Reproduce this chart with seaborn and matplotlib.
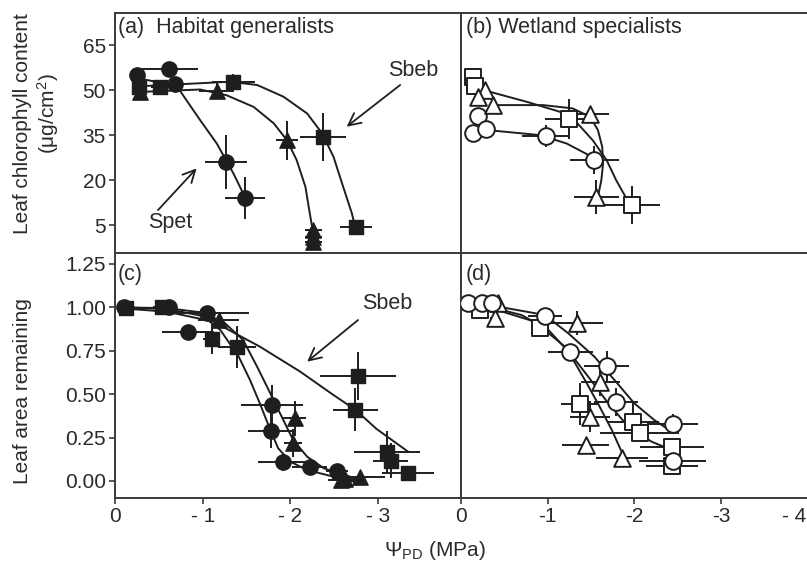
import matplotlib
matplotlib.use("Agg")
import matplotlib.pyplot as plt
import matplotlib.transforms as mtransforms
import seaborn as sns
import pandas as pd

# ---------------- data ----------------
# Panel (a) habitat generalists, chlorophyll
a_circ_x = [-0.25, -0.61, -0.68, -1.27, -1.48]
a_circ_y = [55.0, 57.0, 52.2, 26.1, 14.2]
a_circ_xe = [0.05, 0.34, 0.05, 0.24, 0.23]
a_circ_ye = [1.5, 1.5, 1.5, 9.0, 7.0]
a_sq_x = [-0.27, -0.51, -1.35, -2.37, -2.75]
a_sq_y = [51.1, 50.9, 52.8, 34.5, 4.5]
a_sq_xe = [0.05, 0.10, 0.25, 0.26, 0.18]
a_sq_ye = [2.0, 2.0, 2.5, 8.0, 2.0]
a_tri_x = [-0.28, -1.16, -1.96, -2.26, -2.26, -2.26]
a_tri_y = [49.5, 49.8, 33.3, 3.3, 1.1, -0.6]
a_tri_xe = [0.05, 0.20, 0.12, 0.10, 0.10, 0.10]
a_tri_ye = [2.0, 2.5, 6.5, 1.0, 1.0, 1.0]
a_fit_sq_x = [-0.27, -0.51, -1.31, -1.62, -1.92, -2.19, -2.36, -2.49, -2.60, -2.70, -2.74]
a_fit_sq_y = [51.3, 51.6, 52.8, 51.7, 47.8, 42.2, 35.6, 27.8, 17.8, 8.9, 3.9]
a_fit_tri_x = [-0.29, -0.97, -1.27, -1.58, -1.81, -1.96, -2.07, -2.17, -2.22, -2.26]
a_fit_tri_y = [49.4, 50.2, 48.3, 44.4, 38.9, 33.3, 26.7, 17.8, 8.9, 2.2]
a_fit_circ_x = [-0.25, -0.70, -0.97, -1.16, -1.35, -1.48]
a_fit_circ_y = [54.0, 51.5, 40.0, 32.2, 22.2, 14.4]

# Panel (b) wetland specialists, chlorophyll
b_circ_x = [-0.20, -0.14, -0.29, -0.98, -1.54]
b_circ_y = [41.3, 35.8, 37.2, 34.7, 26.7]
b_circ_xe = [0.05, 0.05, 0.05, 0.27, 0.28]
b_circ_ye = [1.5, 1.5, 2.0, 3.7, 4.7]
b_sq_x = [-0.145, -0.16, -1.25, -1.97]
b_sq_y = [54.4, 51.3, 40.4, 11.7]
b_sq_xe = [0.05, 0.05, 0.28, 0.33]
b_sq_ye = [2.5, 2.0, 6.8, 6.4]
b_tri_x = [-0.28, -0.20, -0.375, -1.49, -1.56]
b_tri_y = [50.2, 47.6, 45.2, 42.2, 14.4]
b_tri_xe = [0.05, 0.05, 0.05, 0.22, 0.26]
b_tri_ye = [1.5, 1.5, 2.0, 1.5, 5.8]
b_fit_sq_x = [-0.145, -0.34, -0.76, -1.14, -1.33, -1.52, -1.68, -1.79, -1.93]
b_fit_sq_y = [51.7, 49.4, 46.1, 42.8, 39.4, 33.3, 26.7, 20.0, 12.8]
b_fit_tri_x = [-0.375, -0.95, -1.29, -1.49, -1.58, -1.63, -1.64, -1.62, -1.58]
b_fit_tri_y = [45.0, 45.0, 43.9, 41.1, 36.7, 31.1, 25.6, 20.0, 14.4]
b_fit_circ_x = [-0.30, -0.91, -1.22, -1.45, -1.58]
b_fit_circ_y = [36.7, 35.0, 32.2, 28.7, 25.6]

# Panel (c) habitat generalists, leaf area
c_circ_x = [-0.10, -0.61, -1.05, -0.83, -1.79, -1.78, -1.92, -2.22, -2.53]
c_circ_y = [1.00, 1.00, 0.966, 0.86, 0.44, 0.29, 0.108, 0.082, 0.059]
c_circ_xe = [0.04, 0.05, 0.48, 0.30, 0.35, 0.26, 0.29, 0.20, 0.13]
c_circ_ye = [0.01, 0.01, 0.02, 0.02, 0.11, 0.10, 0.05, 0.03, 0.03]
c_sq_x = [-0.13, -0.53, -1.10, -1.39, -2.77, -2.74, -3.10, -3.14, -3.34]
c_sq_y = [0.995, 1.00, 0.816, 0.77, 0.605, 0.41, 0.165, 0.117, 0.044]
c_sq_xe = [0.04, 0.10, 0.10, 0.22, 0.43, 0.26, 0.38, 0.20, 0.30]
c_sq_ye = [0.01, 0.01, 0.087, 0.12, 0.14, 0.125, 0.12, 0.10, 0.02]
c_tri_x = [-1.18, -2.05, -2.03, -2.58, -2.62, -2.79]
c_tri_y = [0.93, 0.36, 0.22, 0.006, 0.010, 0.025]
c_tri_xe = [0.23, 0.13, 0.10, 0.15, 0.15, 0.29]
c_tri_ye = [0.02, 0.10, 0.08, 0.02, 0.02, 0.02]
c_fit_sq_x = [-0.06, -0.59, -1.12, -1.65, -2.11, -2.49, -2.74, -2.98, -3.34]
c_fit_sq_y = [0.995, 0.975, 0.918, 0.774, 0.63, 0.495, 0.41, 0.30, 0.169]
c_fit_circ_x = [-0.10, -0.60, -1.00, -1.20, -1.41, -1.54, -1.65, -1.77, -1.86, -2.00, -2.19, -2.49, -2.72]
c_fit_circ_y = [1.00, 0.99, 0.95, 0.87, 0.716, 0.58, 0.448, 0.294, 0.188, 0.111, 0.063, 0.025, -0.004]
c_fit_tri_x = [-0.10, -0.60, -1.00, -1.25, -1.46, -1.62, -1.77, -1.90, -2.03, -2.19, -2.38, -2.68]
c_fit_tri_y = [1.00, 0.995, 0.97, 0.91, 0.812, 0.658, 0.505, 0.37, 0.236, 0.14, 0.073, 0.025]

# Panel (d) wetland specialists, leaf area
d_circ_x = [-0.087, -0.24, -0.36, -0.97, -1.26, -1.68, -1.79, -2.44, -2.44]
d_circ_y = [1.027, 1.027, 1.024, 0.95, 0.74, 0.66, 0.457, 0.328, 0.117]
d_circ_xe = [0.03, 0.05, 0.05, 0.20, 0.26, 0.26, 0.25, 0.29, 0.39]
d_circ_ye = [0.01, 0.01, 0.01, 0.02, 0.03, 0.09, 0.08, 0.06, 0.03]
d_sq_x = [-0.22, -0.91, -1.37, -1.98, -2.06, -2.43, -2.43]
d_sq_y = [0.985, 0.88, 0.444, 0.342, 0.275, 0.198, 0.086]
d_sq_xe = [0.05, 0.10, 0.22, 0.30, 0.45, 0.37, 0.30]
d_sq_ye = [0.02, 0.03, 0.12, 0.11, 0.05, 0.05, 0.03]
d_tri_x = [-0.43, -0.39, -1.34, -1.61, -1.49, -1.44, -1.86]
d_tri_y = [1.027, 0.937, 0.91, 0.572, 0.37, 0.207, 0.131]
d_tri_xe = [0.05, 0.05, 0.30, 0.23, 0.23, 0.27, 0.30]
d_tri_ye = [0.01, 0.05, 0.07, 0.08, 0.09, 0.03, 0.03]
d_fit_circ_x = [-0.32, -0.97, -1.24, -1.54, -1.77, -2.00, -2.23, -2.43]
d_fit_circ_y = [1.014, 0.956, 0.85, 0.716, 0.582, 0.447, 0.351, 0.284]
d_fit_sq_x = [-0.32, -0.85, -1.20, -1.47, -1.70, -1.93, -2.20, -2.43]
d_fit_sq_y = [1.00, 0.918, 0.774, 0.60, 0.447, 0.313, 0.226, 0.179]
d_fit_tri_x = [-0.32, -0.70, -1.01, -1.24, -1.43, -1.58, -1.74, -1.87]
d_fit_tri_y = [1.004, 0.956, 0.87, 0.745, 0.582, 0.447, 0.294, 0.15]

left_xticks = [0, -1, -2, -3]
left_xticklabels = ["0", "- 1", "- 2", "- 3"]
right_xticks = [0, -1, -2, -3, -4]
right_xticklabels = ["0", "-1", "-2", "-3", "- 4"]
top_yticks = [5, 20, 35, 50, 65]
bottom_yticks = [0.0, 0.25, 0.5, 0.75, 1.0, 1.25]
bottom_yticklabels = ["0.00", "0.25", "0.50", "0.75", "1.00", "1.25"]

# ---------------- style ----------------
sns.set_style("ticks")
plt.rcParams["font.family"] = ["Liberation Sans", "DejaVu Sans"]
plt.rcParams["mathtext.fontset"] = "custom"
plt.rcParams["mathtext.rm"] = "Liberation Sans"
plt.rcParams["mathtext.it"] = "Liberation Sans"

INK = "#1e1e1e"
TXT = "#2a2a2a"
SPINE = "#3a3a3a"
W, H = 807, 565
fig = plt.figure(figsize=(W / 100, H / 100), dpi=100)


def px_axes(x0, y0, x1, y1):
    return fig.add_axes([x0 / W, 1 - y1 / H, (x1 - x0) / W, (y1 - y0) / H])


ax_a = px_axes(115, 13, 460.7, 253)
ax_b = px_axes(460.7, 13, 808, 253)
ax_c = px_axes(115, 253, 460.7, 498)
ax_d = px_axes(460.7, 253, 808, 498)

MS_FILLED = {"o": 11, "s": 10, "^": 11}
MS_OPEN = {"o": 12, "s": 11, "^": 12}


def series(ax, x, y, xe, ye, marker, filled):
    ax.errorbar(x, y, xerr=xe, yerr=ye, fmt="none", ecolor=INK,
                elinewidth=1.4, capsize=0, zorder=3)
    df = pd.DataFrame({"x": x, "y": y})
    ms = MS_FILLED[marker] if filled else MS_OPEN[marker]
    sns.scatterplot(data=df, x="x", y="y", ax=ax, marker=marker,
                    s=ms ** 2,
                    color=INK if filled else "white",
                    edgecolor=INK, linewidth=1.0 if filled else 1.4,
                    zorder=4, legend=False)


def curve(ax, x, y):
    df = pd.DataFrame({"x": x, "y": y})
    sns.lineplot(data=df, x="x", y="y", ax=ax, sort=False, estimator=None,
                 color=INK, linewidth=1.4, zorder=2)


# panel a
curve(ax_a, a_fit_sq_x, a_fit_sq_y)
curve(ax_a, a_fit_tri_x, a_fit_tri_y)
curve(ax_a, a_fit_circ_x, a_fit_circ_y)
series(ax_a, a_tri_x, a_tri_y, a_tri_xe, a_tri_ye, "^", True)
series(ax_a, a_sq_x, a_sq_y, a_sq_xe, a_sq_ye, "s", True)
series(ax_a, a_circ_x, a_circ_y, a_circ_xe, a_circ_ye, "o", True)

# panel b
curve(ax_b, b_fit_sq_x, b_fit_sq_y)
curve(ax_b, b_fit_tri_x, b_fit_tri_y)
curve(ax_b, b_fit_circ_x, b_fit_circ_y)
series(ax_b, b_circ_x, b_circ_y, b_circ_xe, b_circ_ye, "o", False)
series(ax_b, b_sq_x, b_sq_y, b_sq_xe, b_sq_ye, "s", False)
series(ax_b, b_tri_x, b_tri_y, b_tri_xe, b_tri_ye, "^", False)

# panel c
curve(ax_c, c_fit_sq_x, c_fit_sq_y)
curve(ax_c, c_fit_circ_x, c_fit_circ_y)
curve(ax_c, c_fit_tri_x, c_fit_tri_y)
series(ax_c, c_tri_x, c_tri_y, c_tri_xe, c_tri_ye, "^", True)
series(ax_c, c_sq_x, c_sq_y, c_sq_xe, c_sq_ye, "s", True)
series(ax_c, c_circ_x, c_circ_y, c_circ_xe, c_circ_ye, "o", True)

# panel d
curve(ax_d, d_fit_circ_x, d_fit_circ_y)
curve(ax_d, d_fit_sq_x, d_fit_sq_y)
curve(ax_d, d_fit_tri_x, d_fit_tri_y)
series(ax_d, d_sq_x, d_sq_y, d_sq_xe, d_sq_ye, "s", False)
series(ax_d, d_tri_x, d_tri_y, d_tri_xe, d_tri_ye, "^", False)
series(ax_d, d_circ_x, d_circ_y, d_circ_xe, d_circ_ye, "o", False)

# axes formatting
TICK_FS = 15
for ax in (ax_a, ax_b, ax_c, ax_d):
    for sp in ax.spines.values():
        sp.set_visible(True)
        sp.set_color(SPINE)
        sp.set_linewidth(1.4)
    ax.set_xlabel("")
    ax.set_ylabel("")
    ax.tick_params(direction="out", length=4.5, width=1.2, color=SPINE,
                   labelsize=TICK_FS, labelcolor=TXT, pad=2)

for ax in (ax_a, ax_c):
    ax.set_xlim(0, -3.94)
for ax in (ax_b, ax_d):
    ax.set_xlim(0, -4.0)
for ax in (ax_a, ax_b):
    ax.set_ylim(-4.3, 75.7)
    ax.set_xticks([])
for ax in (ax_c, ax_d):
    ax.set_ylim(-0.098, 1.313)

ax_a.set_yticks(top_yticks)
ax_a.set_yticklabels([str(v) for v in top_yticks])
ax_c.set_yticks(bottom_yticks)
ax_c.set_yticklabels(bottom_yticklabels)
ax_b.set_yticks([])
ax_d.set_yticks([])
ax_c.set_xticks(left_xticks)
ax_c.set_xticklabels(left_xticklabels)
ax_d.set_xticks(right_xticks)
ax_d.set_xticklabels(right_xticklabels)
# last label sits at the right edge of the figure: keep it inside
last = ax_d.get_xticklabels()[-1]
last.set_horizontalalignment("right")
last.set_transform(last.get_transform()
                   + mtransforms.ScaledTranslation(-2 / 100, 0, fig.dpi_scale_trans))

# panel titles
TFS = 15.5
ax_a.text(0.008, 0.985, "(a)  Habitat generalists", transform=ax_a.transAxes,
          ha="left", va="top", fontsize=TFS, color=TXT)
ax_b.text(0.015, 0.985, "(b) Wetland specialists", transform=ax_b.transAxes,
          ha="left", va="top", fontsize=TFS, color=TXT)
ax_c.text(0.008, 0.955, "(c)", transform=ax_c.transAxes,
          ha="left", va="top", fontsize=TFS, color=TXT)
ax_d.text(0.015, 0.955, "(d)", transform=ax_d.transAxes,
          ha="left", va="top", fontsize=TFS, color=TXT)

# annotations
arw = dict(arrowstyle="->", lw=1.3, color=INK, mutation_scale=22,
           shrinkA=0, shrinkB=0)
ax_a.text(-3.40, 56.7, "Sbeb", ha="center", va="center", fontsize=TFS, color=TXT)
ax_a.annotate("", xy=(-2.64, 37.8), xytext=(-3.25, 51.7), arrowprops=arw)
ax_a.text(-0.63, 6.0, "Spet", ha="center", va="center", fontsize=TFS, color=TXT)
ax_a.annotate("", xy=(-0.93, 23.9), xytext=(-0.49, 10.0), arrowprops=arw)
ax_c.text(-3.10, 1.022, "Sbeb", ha="center", va="center", fontsize=TFS, color=TXT)
ax_c.annotate("", xy=(-2.19, 0.687), xytext=(-2.77, 0.927), arrowprops=arw)

# axis labels
LFS = 15
fig.text(23 / W, 1 - 124 / H, "Leaf chlorophyll content",
         rotation=90, ha="center", va="center", fontsize=LFS, color=TXT)
fig.text(48 / W, 1 - 114 / H, "(μg/cm$^{\\mathregular{2}}$)",
         rotation=90, ha="center", va="center", fontsize=LFS, color=TXT)
fig.text(23 / W, 1 - 391 / H, "Leaf area remaining", rotation=90,
         ha="center", va="center", fontsize=LFS, color=TXT)
fig.text(435 / W, 1 - 550 / H, "Ψ$_{\\mathregular{PD}}$ (MPa)", ha="center",
         va="center", fontsize=LFS, color=TXT)

fig.savefig("out.png", dpi=100)
